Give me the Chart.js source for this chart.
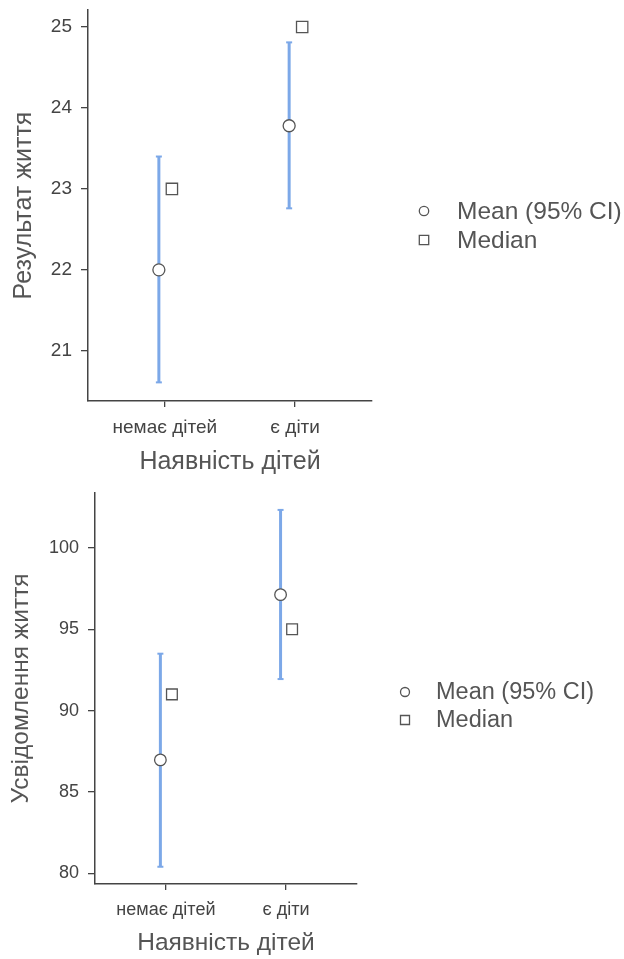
<!DOCTYPE html>
<html>
<head>
<meta charset="utf-8">
<script src="https://cdn.jsdelivr.net/npm/chart.js@4.4.0/dist/chart.umd.min.js"></script>
<style>
  html, body { margin: 0; padding: 0; background: #ffffff; }
  #wrap { position: relative; width: 624px; height: 959px; overflow: hidden; }
  canvas { position: absolute; left: 0; }
</style>
</head>
<body>
<div id="wrap">
  <canvas id="resultChart" width="624" height="480" style="top:0px"></canvas>
  <canvas id="awareChart" width="624" height="479" style="top:480px"></canvas>
</div>
<script>
// Groups on the x axis
const groups = ['немає дітей', 'є діти'];

// "Результат життя": mean with 95% CI, and median
const resultMean = [22.0, 23.78];
const resultLow = [20.61, 22.76];
const resultHigh = [23.40, 24.81];
const resultMedian = [23, 25];
const resultTicks = [21, 22, 23, 24, 25];

// "Усвідомлення життя": mean with 95% CI, and median
const awareMean = [86.97, 97.13];
const awareLow = [80.4, 91.94];
const awareHigh = [93.5, 102.34];
const awareMedian = [91, 95];
const awareTicks = [80, 85, 90, 95, 100];

const legendLabels = ['Mean (95% CI)', 'Median'];

const FONT = "'Liberation Sans', Arial, sans-serif";
const AXIS = '#444444';
const CI_BLUE = 'rgb(124,168,232)';
const MARK = '#555555';

// Legend drawn beside the plot: open circle for the mean, open square for the median
const sideLegend = {
  id: 'sideLegend',
  afterDraw(chart, args, o) {
    const ctx = chart.ctx;
    ctx.save();
    ctx.strokeStyle = MARK;
    ctx.lineWidth = 1.3;
    ctx.fillStyle = '#ffffff';
    ctx.beginPath();
    ctx.arc(o.markX, o.rowY[0], o.mark, 0, Math.PI * 2);
    ctx.fill(); ctx.stroke();
    ctx.beginPath();
    ctx.rect(o.markX - o.mark, o.rowY[1] - o.mark, o.mark * 2, o.mark * 2);
    ctx.fill(); ctx.stroke();
    ctx.fillStyle = '#555555';
    ctx.font = o.fontSize + 'px ' + FONT;
    ctx.textBaseline = 'middle';
    ctx.textAlign = 'left';
    legendLabels.forEach((t, i) => ctx.fillText(t, o.textX, o.rowY[i] + 1));
    ctx.restore();
  }
};

function panel(canvasId, d, g) {
  const datasets = [];
  // CI whiskers, one vertical segment per group
  groups.forEach((name, i) => {
    datasets.push({
      data: [{ x: i + g.meanShift, y: d.low[i] }, { x: i + g.meanShift, y: d.high[i] }],
      showLine: true, borderColor: CI_BLUE, borderWidth: 3,
      pointRadius: 0, order: 3
    });
  });
  // short caps at the CI ends
  datasets.push({
    data: groups.flatMap((name, i) => [
      { x: i + g.meanShift, y: d.low[i] }, { x: i + g.meanShift, y: d.high[i] }
    ]),
    pointStyle: 'line', pointRadius: 3, borderColor: CI_BLUE, borderWidth: 2, order: 2
  });
  // means
  datasets.push({
    data: groups.map((name, i) => ({ x: i + g.meanShift, y: d.mean[i] })),
    pointStyle: 'circle', pointRadius: g.circle, backgroundColor: '#ffffff',
    borderColor: MARK, borderWidth: 1.3, order: 1
  });
  // medians
  datasets.push({
    data: groups.map((name, i) => ({ x: i + g.medianShift, y: d.median[i] })),
    pointStyle: 'rect', pointRadius: g.square, backgroundColor: '#ffffff',
    borderColor: MARK, borderWidth: 1.3, order: 1
  });

  return new Chart(document.getElementById(canvasId), {
    type: 'scatter',
    data: { datasets },
    plugins: [sideLegend],
    options: {
      responsive: false,
      animation: false,
      events: [],
      layout: { padding: { left: 0, top: g.areaTop, right: 624 - g.areaRight, bottom: 0 } },
      plugins: {
        legend: { display: false },
        tooltip: { enabled: false },
        sideLegend: g.legend
      },
      scales: {
        x: {
          type: 'linear', bounds: 'data', min: -0.59, max: 1.59,
          afterBuildTicks: s => { s.ticks = groups.map((n, i) => ({ value: i })); },
          afterFit: s => { s.height = g.xAxisHeight; s.paddingLeft = 0; s.paddingRight = 0; },
          ticks: {
            callback: v => groups[v], autoSkip: false, maxRotation: 0,
            font: { family: FONT, size: g.tickSize }, color: '#444444', padding: g.xTickPad
          },
          grid: { drawOnChartArea: false, tickLength: 6, color: AXIS, lineWidth: 1.3 },
          border: { display: true, color: AXIS, width: 1.5 },
          title: {
            display: true, text: 'Наявність дітей', color: '#555555',
            font: { family: FONT, size: g.titleSize }, padding: { top: 0, bottom: g.xTitlePad }
          }
        },
        y: {
          type: 'linear', bounds: 'data', min: d.min, max: d.max,
          afterBuildTicks: s => { s.ticks = d.ticks.map(v => ({ value: v })); },
          afterFit: s => { s.width = g.areaLeft; s.paddingTop = 0; s.paddingBottom = 0; },
          ticks: {
            font: { family: FONT, size: g.tickSize }, color: '#444444', padding: 9
          },
          grid: { drawOnChartArea: false, tickLength: 7, color: AXIS, lineWidth: 1.3 },
          border: { display: true, color: AXIS, width: 1.5 },
          title: {
            display: true, text: d.title, color: '#555555',
            font: { family: FONT, size: g.titleSize }, padding: { top: g.yTitlePad, bottom: 0 }
          }
        }
      }
    }
  });
}

panel('resultChart',
  { mean: resultMean, low: resultLow, high: resultHigh, median: resultMedian,
    ticks: resultTicks, min: 20.38, max: 25.21, title: 'Результат життя' },
  { areaLeft: 88, areaRight: 372, areaTop: 10, xAxisHeight: 79,
    meanShift: -0.046, medianShift: 0.054, circle: 6, square: 8,
    tickSize: 19, titleSize: 25, xTickPad: 9, xTitlePad: 3, yTitlePad: 9,
    legend: { markX: 424, textX: 457, rowY: [211, 240], mark: 4.7, fontSize: 24.5 } });

panel('awareChart',
  { mean: awareMean, low: awareLow, high: awareHigh, median: awareMedian,
    ticks: awareTicks, min: 79.34, max: 103.38, title: 'Усвідомлення життя' },
  { areaLeft: 95, areaRight: 357, areaTop: 13, xAxisHeight: 75,
    meanShift: -0.046, medianShift: 0.05, circle: 5.8, square: 7.6,
    tickSize: 18, titleSize: 24.5, xTickPad: 9, xTitlePad: 1, yTitlePad: 7,
    legend: { markX: 405, textX: 436, rowY: [212, 240], mark: 4.5, fontSize: 23.5 } });
</script>
</body>
</html>
